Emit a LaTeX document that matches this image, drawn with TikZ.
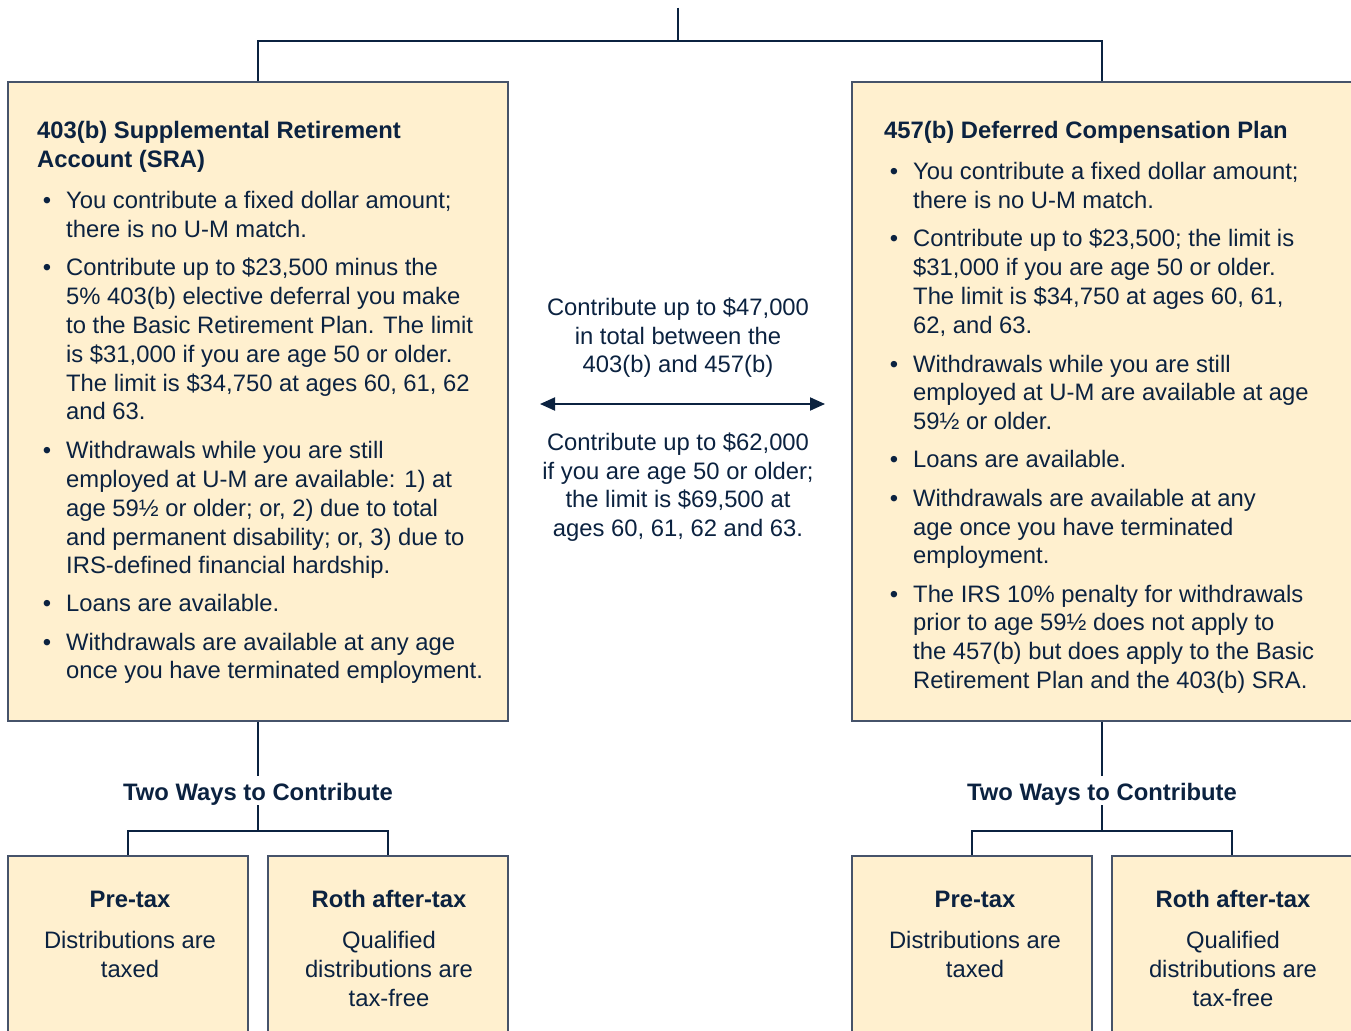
\documentclass[tikz,border=0pt]{standalone}
\usepackage{fontspec}
\setmainfont{Liberation Sans}
\usetikzlibrary{arrows.meta}
\definecolor{ink}{HTML}{0B2240}
\definecolor{cream}{HTML}{FFF0CF}
\definecolor{edge}{HTML}{46536A}
\tikzset{
  box/.style={draw=edge, fill=cream, line width=1.5pt, inner sep=0pt},
  txt/.style={anchor=base west, inner sep=0pt, text=ink, font=\fontsize{23.8}{29}\selectfont},
  ttl/.style={txt, font=\fontsize{23.8}{29}\selectfont\bfseries},
  ctxt/.style={txt, anchor=base},
  cttl/.style={ttl, anchor=base},
  bul/.style={txt, anchor=base},
  conn/.style={draw=ink, line width=2pt},
}
\begin{document}
\begin{tikzpicture}[x=1pt,y=-1pt]
\useasboundingbox (0,0) rectangle (1351,1030);
% main boxes
\node[box, minimum width=500pt, minimum height=639pt] (sra) at (258,401.5) {};
\node[box, minimum width=500pt, minimum height=639pt] (dcp) at (1102,401.5) {};
% bottom boxes
\node[box, minimum width=240pt, minimum height=244pt] (pre1) at (128,978) {};
\node[box, minimum width=240pt, minimum height=244pt] (roth1) at (388,978) {};
\node[box, minimum width=240pt, minimum height=244pt] (pre2) at (972,978) {};
\node[box, minimum width=240pt, minimum height=244pt] (roth2) at (1232,978) {};
% top connectors
\coordinate (top) at (678,8);
\draw[conn] (top) -- ++(0,33) -| (sra.north);
\draw[conn] (top) -- ++(0,33) -| (dcp.north);
% two ways labels
\node[cttl, text height=24.5pt, text depth=4.5pt] (tw1) at (258,800.5) {Two Ways to Contribute};
\node[cttl, text height=24.5pt, text depth=4.5pt] (tw2) at (1102,800.5) {Two Ways to Contribute};
\draw[conn] (sra.south) -- (tw1.north);
\draw[conn] (tw1.south) -- ++(0,26) -| (pre1.north);
\draw[conn] (tw1.south) -- ++(0,26) -| (roth1.north);
\draw[conn] (dcp.south) -- (tw2.north);
\draw[conn] (tw2.south) -- ++(0,26) -| (pre2.north);
\draw[conn] (tw2.south) -- ++(0,26) -| (roth2.north);
% double arrow
\coordinate (al) at (540,404);
\coordinate (ar) at (825,404);
\draw[conn, {Triangle[length=15pt,width=13pt]}-{Triangle[length=15pt,width=13pt]}] (al) -- (ar);
% left box text
\node[ttl] (lt1) at (37,138.5) {403(b) Supplemental Retirement};
\node[ttl] (lt2) at (37,167.5) {Account (SRA)};
\node[bul] (lb1) at (47,208.5) {\textbullet};
\node[txt] (l11) at (66,208.5) {You contribute a fixed dollar amount;};
\node[txt] (l12) at (66,237.5) {there is no U-M match.};
\node[bul] (lb2) at (47,275.5) {\textbullet};
\node[txt] (l21) at (66,275.5) {Contribute up to \$23,500 minus the};
\node[txt] (l22) at (66,304.5) {5\% 403(b) elective deferral you make};
\node[txt] (l23) at (66,333.5) {to the Basic Retirement Plan. The limit};
\node[txt] (l24) at (66,362.5) {is \$31,000 if you are age 50 or older.};
\node[txt] (l25) at (66,391.5) {The limit is \$34,750 at ages 60, 61, 62};
\node[txt] (l26) at (66,419.5) {and 63.};
\node[bul] (lb3) at (47,458.5) {\textbullet};
\node[txt] (l31) at (66,458.5) {Withdrawals while you are still};
\node[txt] (l32) at (66,487.5) {employed at U-M are available: 1) at};
\node[txt] (l33) at (66,516.5) {age 59½ or older; or, 2) due to total};
\node[txt] (l34) at (66,545.5) {and permanent disability; or, 3) due to};
\node[txt] (l35) at (66,573.5) {IRS-defined financial hardship.};
\node[bul] (lb4) at (47,611.5) {\textbullet};
\node[txt] (l41) at (66,611.5) {Loans are available.};
\node[bul] (lb5) at (47,650.5) {\textbullet};
\node[txt] (l51) at (66,650.5) {Withdrawals are available at any age};
\node[txt] (l52) at (66,678.5) {once you have terminated employment.};
% right box text
\node[ttl] (rt1) at (884,138.5) {457(b) Deferred Compensation Plan};
\node[bul] (rb1) at (894,179.5) {\textbullet};
\node[txt] (r11) at (913,179.5) {You contribute a fixed dollar amount;};
\node[txt] (r12) at (913,208.5) {there is no U-M match.};
\node[bul] (rb2) at (894,246.5) {\textbullet};
\node[txt] (r21) at (913,246.5) {Contribute up to \$23,500; the limit is};
\node[txt] (r22) at (913,275.5) {\$31,000 if you are age 50 or older.};
\node[txt] (r23) at (913,304.5) {The limit is \$34,750 at ages 60, 61,};
\node[txt] (r24) at (913,333.5) {62, and 63.};
\node[bul] (rb3) at (894,372.5) {\textbullet};
\node[txt] (r31) at (913,372.5) {Withdrawals while you are still};
\node[txt] (r32) at (913,400.5) {employed at U-M are available at age};
\node[txt] (r33) at (913,429.5) {59½ or older.};
\node[bul] (rb4) at (894,467.5) {\textbullet};
\node[txt] (r41) at (913,467.5) {Loans are available.};
\node[bul] (rb5) at (894,506.5) {\textbullet};
\node[txt] (r51) at (913,506.5) {Withdrawals are available at any};
\node[txt] (r52) at (913,535.5) {age once you have terminated};
\node[txt] (r53) at (913,563.5) {employment.};
\node[bul] (rb6) at (894,602.5) {\textbullet};
\node[txt] (r61) at (913,602.5) {The IRS 10\% penalty for withdrawals};
\node[txt] (r62) at (913,630.5) {prior to age 59½ does not apply to};
\node[txt] (r63) at (913,659.5) {the 457(b) but does apply to the Basic};
\node[txt] (r64) at (913,688.5) {Retirement Plan and the 403(b) SRA.};
% middle text
\node[ctxt] (m1) at (678,315.5) {Contribute up to \$47,000};
\node[ctxt] (m2) at (678,344.5) {in total between the};
\node[ctxt] (m3) at (678,372.5) {403(b) and 457(b)};
\node[ctxt] (m4) at (678,450.5) {Contribute up to \$62,000};
\node[ctxt] (m5) at (678,479.5) {if you are age 50 or older;};
\node[ctxt] (m6) at (678,507.5) {the limit is \$69,500 at};
\node[ctxt] (m7) at (678,536.5) {ages 60, 61, 62 and 63.};
% bottom box text
\node[cttl] (p1t) at (130,907.5) {Pre-tax};
\node[ctxt] (p1a) at (130,948.5) {Distributions are};
\node[ctxt] (p1b) at (130,977.5) {taxed};
\node[cttl] (q1t) at (389,907.5) {Roth after-tax};
\node[ctxt] (q1a) at (389,948.5) {Qualified};
\node[ctxt] (q1b) at (389,977.5) {distributions are};
\node[ctxt] (q1c) at (389,1006.5) {tax-free};
\node[cttl] (p2t) at (975,907.5) {Pre-tax};
\node[ctxt] (p2a) at (975,948.5) {Distributions are};
\node[ctxt] (p2b) at (975,977.5) {taxed};
\node[cttl] (q2t) at (1233,907.5) {Roth after-tax};
\node[ctxt] (q2a) at (1233,948.5) {Qualified};
\node[ctxt] (q2b) at (1233,977.5) {distributions are};
\node[ctxt] (q2c) at (1233,1006.5) {tax-free};
\end{tikzpicture}
\end{document}
